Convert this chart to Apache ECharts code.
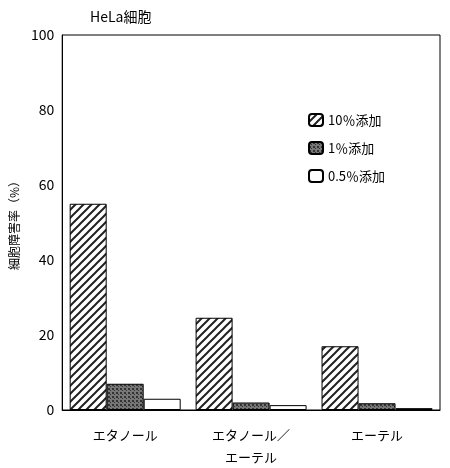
<!DOCTYPE html><html><head><meta charset="utf-8"><script src="https://cdn.jsdelivr.net/npm/echarts@6/dist/echarts.min.js"></script></head><body style="margin:0;background:#fff"><div id="c" style="width:450px;height:468px"></div><script>
const categories=['エタノール','エタノール／\nエーテル','エーテル'];
const seriesNames=['10％添加','1％添加','0.5％添加'];
const v10=[55,24.6,17];
const v1=[7,2,1.8];
const v05=[3,1.3,0.5];
function hatch(){const c=document.createElement('canvas');c.width=8;c.height=8;const g=c.getContext('2d');g.fillStyle='#fff';g.fillRect(0,0,8,8);g.strokeStyle='#222';g.lineWidth=2;g.beginPath();g.moveTo(0,8);g.lineTo(8,0);g.moveTo(-2,2);g.lineTo(2,-2);g.moveTo(6,10);g.lineTo(10,6);g.stroke();return {image:c,repeat:'repeat'};}
function dots(){const c=document.createElement('canvas');c.width=4;c.height=4;const g=c.getContext('2d');g.fillStyle='#777';g.fillRect(0,0,4,4);g.fillStyle='#333';g.fillRect(0,0,2,2);g.fillRect(2,2,1,1);return {image:c,repeat:'repeat'};}
const f="'Noto Sans CJK JP'";
const ch=echarts.init(document.getElementById('c'));
const it={borderColor:'#000',borderWidth:1};
ch.setOption({animation:false,
title:{text:'HeLa細胞',left:85,top:5,textStyle:{fontFamily:f,fontSize:14,fontWeight:'normal',color:'#000'}},
legend:{orient:'vertical',left:303,top:108,itemWidth:14,itemHeight:12,itemGap:14,textStyle:{fontFamily:f,fontSize:13,color:'#000'},data:seriesNames},
grid:{left:60,right:10,top:35,bottom:55,show:true,borderColor:'#000',borderWidth:1},
xAxis:{type:'category',data:categories,axisTick:{show:false},axisLine:{lineStyle:{color:'#000'}},axisLabel:{fontFamily:f,fontSize:13,color:'#000',lineHeight:22,margin:14}},
yAxis:{type:'value',min:0,max:100,interval:20,splitLine:{show:false},axisTick:{inside:true,length:5,lineStyle:{color:'#000'}},axisLine:{show:true,lineStyle:{color:'#000'}},axisLabel:{fontSize:14,color:'#000',fontFamily:f},name:'細胞障害率（%）',nameLocation:'middle',nameGap:42,nameTextStyle:{fontFamily:f,fontSize:12,color:'#000'}},
series:[
{name:seriesNames[0],type:'bar',data:v10,barWidth:37,barGap:'0%',itemStyle:Object.assign({color:hatch()},it)},
{name:seriesNames[1],type:'bar',data:v1,barWidth:37,itemStyle:Object.assign({color:dots()},it)},
{name:seriesNames[2],type:'bar',data:v05,barWidth:37,itemStyle:Object.assign({color:'#fff'},it)}]});
</script></body></html>
